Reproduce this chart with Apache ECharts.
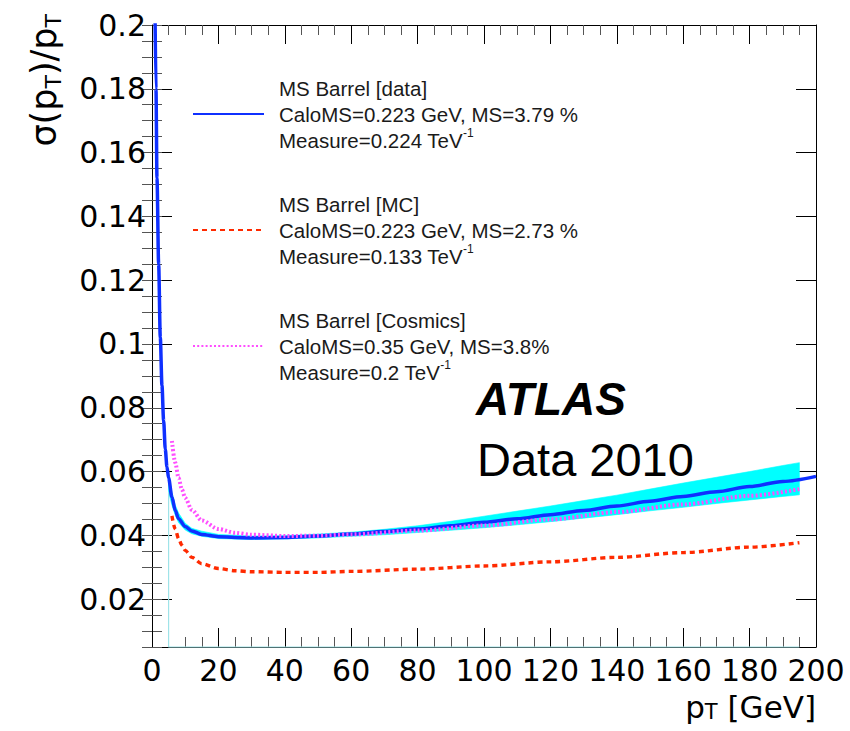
<!DOCTYPE html>
<html><head><meta charset="utf-8">
<script src="https://cdn.jsdelivr.net/npm/echarts@6/dist/echarts.min.js"></script>
<style>html,body{margin:0;padding:0;background:#fff}#c{width:850px;height:731px}</style>
</head><body><div id="c"></div>
<script>
// ---- data ----
const dataPt    = [0.9,1.2,1.5,2,2.5,3,3.5,4,4.5,5,6,7,8,10,12,15,20,25,30,40,50,60,70,80,90,100,110,120,130,140,150,160,170,180,190,200];
const dataSigma = [0.205,0.180,0.152,0.125,0.102,0.087,0.076,0.067,0.0615,0.058,0.052,0.0478,0.0452,0.0428,0.0414,0.0403,0.0396,0.0393,0.0392,0.0393,0.0398,0.0404,0.0412,0.0420,0.0430,0.0441,0.0452,0.0465,0.0478,0.0492,0.0507,0.0522,0.0537,0.0553,0.0569,0.0585];

const mcPt    = [6,7,8,9,10,12,15,20,25,30,40,50,60,80,100,120,140,160,180,195];
const mcSigma = [0.0461,0.0420,0.0390,0.0369,0.0353,0.0331,0.0311,0.0296,0.0289,0.0286,0.0284,0.0284,0.0287,0.0294,0.0304,0.0317,0.0331,0.0346,0.0363,0.0377];

const cosPt    = [6,7,8,9,10,12,15,20,25,30,40,50,60,80,100,120,140,160,180,195];
const cosSigma = [0.0696,0.0628,0.0580,0.0544,0.0517,0.0480,0.0447,0.0420,0.0408,0.0402,0.0398,0.0399,0.0403,0.0415,0.0431,0.0450,0.0473,0.0497,0.0524,0.0545];

const bandPt    = [5,6,7,8,10,12,15,20,30,40,50,60,70,80,90,100,110,120,130,140,150,160,170,180,190,195];
const bandLower = [0.0535,0.0495,0.0463,0.0440,0.0417,0.0405,0.0397,0.0390,0.0387,0.0389,0.0392,0.0397,0.0402,0.0409,0.0416,0.0424,0.0433,0.0443,0.0454,0.0465,0.0477,0.0488,0.0500,0.0511,0.0522,0.0527];
const bandUpper = [0.0590,0.0535,0.0495,0.0470,0.0438,0.0422,0.0413,0.0403,0.0398,0.0399,0.0404,0.0410,0.0419,0.0430,0.0444,0.0460,0.0476,0.0492,0.0509,0.0526,0.0545,0.0564,0.0582,0.0600,0.0619,0.0628];

const yMajorTicks = [0.02,0.04,0.06,0.08,0.1,0.12,0.14,0.16,0.18,0.2];
const xMin = 0, xMax = 200, xStep = 20;
const yMin = 0.005, yMax = 0.2, yMinorStep = 0.005;

const seriesNames   = ['MS Barrel [data]','MS Barrel [MC]','MS Barrel [Cosmics]'];
const legendParams  = ['CaloMS=0.223 GeV, MS=3.79 %','CaloMS=0.223 GeV, MS=2.73 %','CaloMS=0.35 GeV, MS=3.8%'];
const legendMeasure = ['0.224','0.133','0.2'];

// ---- build ----
const zip = (xs, ys) => xs.map((x, i) => [x, ys[i]]);
const AX = 'DejaVu Sans';
const LG = 'Liberation Sans';

const chart = echarts.init(document.getElementById('c'), null, {renderer: 'svg'});

function xAx(pos, labels) {
  return {
    type: 'value', position: pos, min: xMin, max: xMax, interval: xStep,
    axisLine: {show: true, onZero: false, lineStyle: {color: '#000', width: 1}},
    axisTick: {show: true, inside: true, length: 19, lineStyle: {color: '#000', width: 1}},
    minorTick: {show: true, splitNumber: 4, length: 10, lineStyle: {color: '#555', width: 1}},
    axisLabel: {show: labels, color: '#000', fontFamily: AX, fontSize: 30, margin: 8},
    splitLine: {show: false}, minorSplitLine: {show: false}
  };
}
function yMajor(pos, labels) {
  return {
    type: 'value', position: pos, min: yMin, max: yMax,
    axisLine: {show: true, onZero: false, lineStyle: {color: '#000', width: 1}},
    axisTick: {show: true, inside: true, length: 20, customValues: yMajorTicks, lineStyle: {color: '#000', width: 1}},
    axisLabel: {show: labels, customValues: yMajorTicks, color: '#000', fontFamily: AX, fontSize: 30, margin: 6},
    splitLine: {show: false}
  };
}
function yMinor(pos) {
  return {
    type: 'value', position: pos, min: yMin, max: yMax, interval: yMinorStep,
    axisLine: {show: false},
    axisTick: {show: true, inside: true, length: 10, lineStyle: {color: '#555', width: 1}},
    axisLabel: {show: false}, splitLine: {show: false}
  };
}

const legendFmt = {};
seriesNames.forEach((n, i) => {
  legendFmt[n] = n + '\n' + legendParams[i] + '\nMeasure=' + legendMeasure[i] + ' TeV{sup|-1}';
});

const option = {
  backgroundColor: '#fff',
  animation: false,
  grid: {left: 152, right: 34, top: 25, bottom: 84, containLabel: false},
  xAxis: [xAx('bottom', true), xAx('top', false)],
  yAxis: [yMajor('left', true), yMinor('left'), yMajor('right', false), yMinor('right')],
  legend: {
    orient: 'vertical', left: 192, top: 75, padding: 0,
    itemWidth: 71, itemHeight: 14, itemGap: 38,
    data: seriesNames,
    formatter: n => legendFmt[n],
    itemStyle: {opacity: 0},
    textStyle: {
      fontFamily: LG, fontSize: 20.5, color: '#1a1a1a', lineHeight: 26, padding: [0, 0, 0, 10],
      rich: {sup: {fontFamily: LG, fontSize: 12, lineHeight: 16, verticalAlign: 'top', color: '#1a1a1a'}}
    }
  },
  series: [
    {
      name: 'band', type: 'custom', silent: true, z: 1, clip: true,
      data: bandPt.map((x, i) => [x, bandLower[i], bandUpper[i]]),
      encode: {x: 0, y: [1, 2]},
      renderItem: (params, api) => {
        if (params.dataIndex !== 0) return null;
        const pts = [];
        for (let i = 0; i < bandPt.length; i++) pts.push(api.coord([bandPt[i], bandUpper[i]]));
        for (let i = bandPt.length - 1; i >= 0; i--) pts.push(api.coord([bandPt[i], bandLower[i]]));
        return {type: 'polygon', shape: {points: pts}, style: {fill: '#00ffff', stroke: '#00ffff', lineWidth: 0.6}};
      }
    },
    {
      name: 'bandEdge', type: 'line', clip: false,
      data: [[bandPt[bandPt.length - 1], yMin], [bandPt[0], yMin], [bandPt[0], bandLower[0]]],
      symbol: 'none', lineStyle: {color: '#9fe3e8', width: 1.2}, silent: true, z: 2
    },
    {
      name: seriesNames[0], type: 'line', data: zip(dataPt, dataSigma),
      symbol: 'none', smooth: 0.3, smoothMonotone: 'x',
      lineStyle: {color: '#0f30ff', width: 3.5}, itemStyle: {color: '#0f30ff'}, z: 3
    },
    {
      name: seriesNames[1], type: 'line', data: zip(mcPt, mcSigma),
      symbol: 'none', smooth: 0.3, smoothMonotone: 'x',
      lineStyle: {color: '#ff2a00', width: 3.4, type: [5, 4]}, itemStyle: {color: '#ff2a00'}, z: 4
    },
    {
      name: seriesNames[2], type: 'line', data: zip(cosPt, cosSigma),
      symbol: 'none', smooth: 0.3, smoothMonotone: 'x',
      lineStyle: {color: '#ff4dff', width: 4, type: [2, 2.2]}, itemStyle: {color: '#ff4dff'}, z: 5
    }
  ],
  graphic: [
    {
      type: 'text', x: 44, y: 14, rotation: Math.PI / 2,
      style: {
        text: 'σ(p{s|T})/p{s|T}', fontFamily: AX, fontSize: 35, lineHeight: 40, fill: '#000',
        align: 'right', verticalAlign: 'middle',
        rich: {s: {fontFamily: AX, fontSize: 22, lineHeight: 22, padding: [14, 0, 0, 0], verticalAlign: 'bottom', fill: '#000'}}
      }
    },
    {
      type: 'text', x: 816, y: 707,
      style: {
        text: 'p{s|T} [GeV]', fontFamily: AX, fontSize: 31, lineHeight: 31, fill: '#000',
        align: 'right', verticalAlign: 'middle',
        rich: {s: {fontFamily: AX, fontSize: 21, lineHeight: 21, padding: [12, 0, 0, 0], verticalAlign: 'bottom', fill: '#000'}}
      }
    },
    {
      type: 'text', x: 476, y: 399,
      style: {text: 'ATLAS', fontFamily: LG, fontSize: 46, fontWeight: 'bold', fontStyle: 'italic', fill: '#000', align: 'left', verticalAlign: 'middle'}
    },
    {
      type: 'text', x: 477, y: 459,
      style: {text: 'Data 2010', fontFamily: LG, fontSize: 47, fill: '#000', align: 'left', verticalAlign: 'middle'}
    }
  ]
};
chart.setOption(option);
</script>
</body></html>
